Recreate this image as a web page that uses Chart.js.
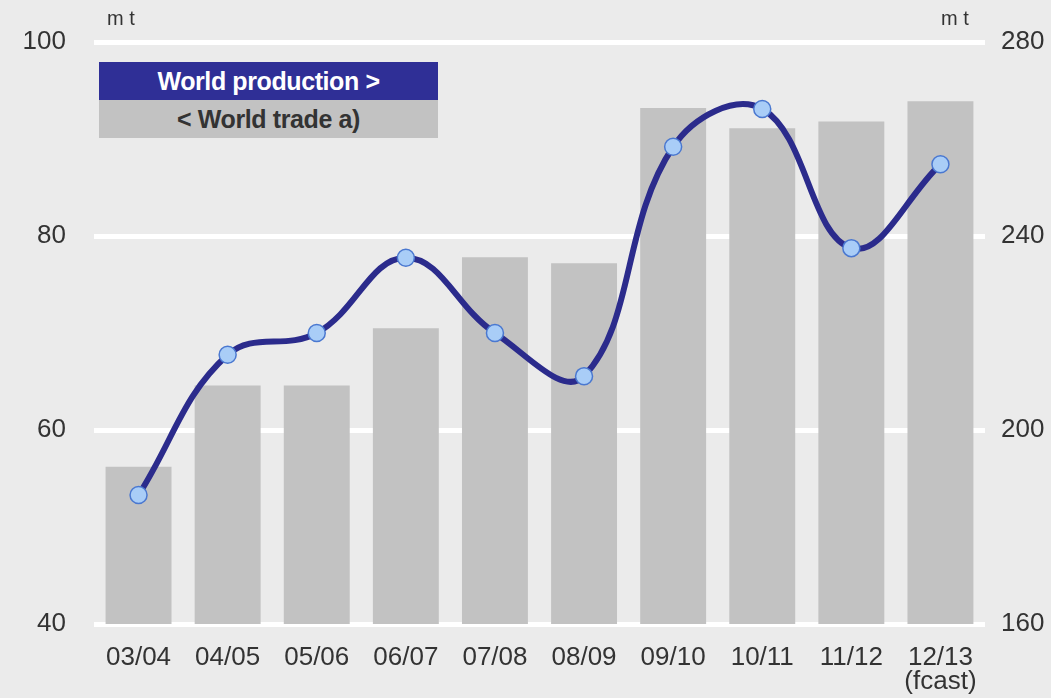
<!DOCTYPE html>
<html>
<head>
<meta charset="utf-8">
<script src="https://cdn.jsdelivr.net/npm/chart.js@4/dist/chart.umd.min.js"></script>
<style>
  html, body { margin: 0; padding: 0; background: #ebebeb; }
  #wrap { position: relative; width: 1051px; height: 698px; }
  canvas { position: absolute; left: 0; top: 0; }
  .unit { position: absolute; top: 7px; font: 20px "Liberation Sans", Arial, sans-serif; color: #333; }
  #legend { position: absolute; left: 99px; top: 62px; width: 339px; font-family: "Liberation Sans", Arial, sans-serif; font-weight: bold; font-size: 25px; text-align: center; letter-spacing: -0.4px; }
  #legend div { height: 38px; line-height: 38px; }
  #legend .prod { background: #2f2f96; color: #fff; }
  #legend .trade { background: #c2c2c2; color: #333; }
</style>
</head>
<body>
<div id="wrap">
  <canvas id="chart" width="1051" height="698"></canvas>
  <div class="unit" style="left:107px">m t</div>
  <div class="unit" style="left:941px">m t</div>
  <div id="legend">
    <div class="prod">World production &gt;</div>
    <div class="trade">&lt; World trade a)</div>
  </div>
</div>
<script>
// seasons on the x axis
const seasons = ['03/04', '04/05', '05/06', '06/07', '07/08', '08/09', '09/10', '10/11', '11/12', ['12/13', '(fcast)']];
// world trade, m t (left axis)
const worldTrade = [56.2, 64.6, 64.6, 70.5, 77.8, 77.2, 93.2, 91.1, 91.8, 93.9];
// world production, m t (right axis)
const worldProduction = [186.6, 215.5, 220.0, 235.5, 220.0, 211.1, 258.4, 266.2, 237.5, 254.8];

const leftTicks = [40, 60, 80, 100];
const rightTicks = [160, 200, 240, 280];

const tickFont = { family: '"Liberation Sans", Arial, sans-serif', size: 26, lineHeight: 0.95 };

const ctx = document.getElementById('chart').getContext('2d');
new Chart(ctx, {
  type: 'bar',
  data: {
    labels: seasons,
    datasets: [
      {
        type: 'line',
        label: 'World production',
        data: worldProduction,
        yAxisID: 'yRight',
        borderColor: '#2b2b8c',
        borderWidth: 6,
        tension: 0.4,
        pointRadius: 8.5,
        pointBackgroundColor: '#a9cdf7',
        pointBorderColor: '#4a78d0',
        pointBorderWidth: 1.5,
        order: 0
      },
      {
        label: 'World trade',
        data: worldTrade,
        yAxisID: 'yLeft',
        backgroundColor: '#c2c2c2',
        barPercentage: 0.74,
        categoryPercentage: 1,
        order: 1
      }
    ]
  },
  options: {
    responsive: false,
    animation: false,
    layout: { padding: { top: 42, bottom: 0, left: 0, right: 0 } },
    plugins: { legend: { display: false }, tooltip: { enabled: false } },
    scales: {
      x: {
        grid: { display: false },
        border: { display: false },
        ticks: { color: '#333', font: tickFont, padding: 13, maxRotation: 0, autoSkip: false },
        afterFit(scale) { scale.height = 74; }
      },
      yLeft: {
        position: 'left',
        min: 40,
        max: 100,
        afterBuildTicks(scale) { scale.ticks = leftTicks.map(v => ({ value: v })); },
        grid: { color: '#ffffff', lineWidth: 5, drawTicks: false },
        border: { display: false },
        ticks: { color: '#333', font: tickFont, padding: 28 },
        afterFit(scale) { scale.width = 94; }
      },
      yRight: {
        position: 'right',
        min: 160,
        max: 280,
        afterBuildTicks(scale) { scale.ticks = rightTicks.map(v => ({ value: v })); },
        grid: { display: false },
        border: { display: false },
        ticks: { color: '#333', font: tickFont, padding: 8 },
        afterFit(scale) { scale.width = 66; }
      }
    }
  }
});
</script>
</body>
</html>
